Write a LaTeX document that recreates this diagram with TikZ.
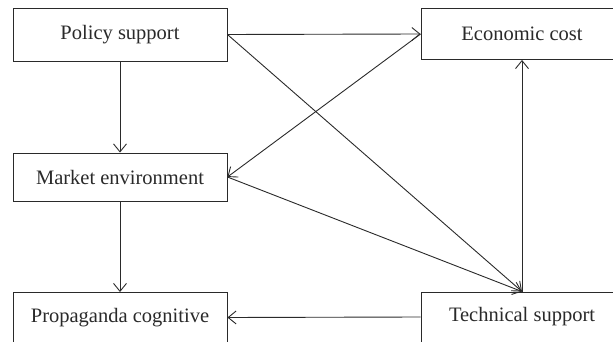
\documentclass[tikz,border=0pt]{standalone}
\usepackage{fontspec}
\setmainfont{Liberation Serif}
\usetikzlibrary{arrows.meta}
\definecolor{ink}{HTML}{2A2A2A}
\tikzset{
  box/.style={draw=ink, line width=0.9pt, fill=white, inner sep=0pt, text=ink,
    font=\fontsize{20.5}{24}\selectfont},
  conn/.style={draw=ink, line width=0.9pt, -{Straight Barb[length=8pt,width=13pt,line width=0.9pt]}}
}
\begin{document}
\begin{tikzpicture}[x=1pt,y=-1pt]
\useasboundingbox (0,0) rectangle (613,342);
\clip (0,0) rectangle (613,342);
\node[box, minimum width=214pt, minimum height=53pt] (ps) at (120,34.5) {Policy support};
\node[box, minimum width=202pt, minimum height=51pt] (ec) at (522,34) {Economic cost};
\node[box, minimum width=214pt, minimum height=48pt] (me) at (120,177) {Market environment};
\node[box, minimum width=214pt, minimum height=50pt] (pc) at (120,317.5) {Propaganda cognitive};
\node[box, minimum width=202pt, minimum height=50pt] (ts) at (522,317) {Technical support};
\draw[conn] (ps.south) -- (me.north);
\draw[conn] (me.south) -- (pc.north);
\draw[conn] (ts.west) -- (pc.east);
\draw[conn] (ts.north) -- (ec.south);
\draw[conn] (ps.east) -- (ec.west);
\draw[conn] (ps.east) -- (ts.north);
\draw[conn] (ec.west) -- (me.east);
\draw[conn] (me.east) -- (ts.north);
\end{tikzpicture}
\end{document}
